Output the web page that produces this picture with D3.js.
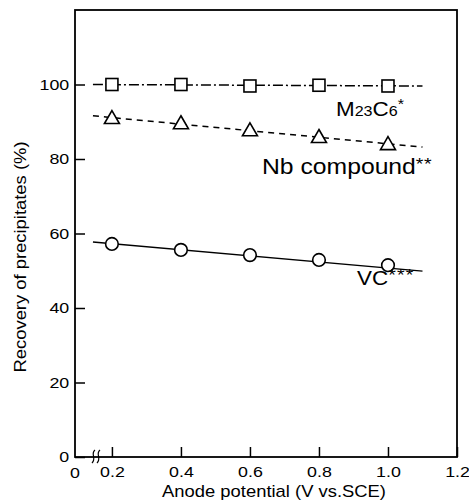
<!doctype html>
<html>
<head>
<meta charset="utf-8">
<script src="https://cdnjs.cloudflare.com/ajax/libs/d3/7.8.5/d3.min.js"></script>
<style>
  body { margin: 0; background: #fff; }
  svg { display: block; }
  text { font-family: "Liberation Sans", Arial, Helvetica, sans-serif; fill: #000; }
</style>
</head>
<body>
<svg id="chart" width="469" height="501"></svg>
<script>
  /* data */
  var potential = [0.2, 0.4, 0.6, 0.8, 1.0];
  var m23c6 = [100, 100, 99.6, 99.8, 99.6];
  var nbCompound = [91.0, 89.6, 87.7, 85.9, 84.0];
  var vc = [57.2, 55.6, 54.2, 52.9, 51.5];

  // fitted lines, [start, end] pairs
  var lineX = [0.145, 1.1];
  var m23c6Line = [100, 99.6];
  var nbLine = [91.6, 83.2];
  var vcLine = [57.7, 49.9];

  var xTicks = [0.2, 0.4, 0.6, 0.8, 1.0, 1.2];
  var yTicks = [0, 20, 40, 60, 80, 100];

  var svg = d3.select("#chart");
  var pL = 75, pR = 457, pT = 10, pB = 457;
  var sx = 1.15; // the scan's lettering is wider than Arial

  var x = d3.scaleLinear().domain([0.093, 1.2]).range([pL, pR]);
  var y = d3.scaleLinear().domain([0, 120]).range([pB, pT]);

  // frame
  svg.append("rect")
    .attr("x", pL).attr("y", pT)
    .attr("width", pR - pL).attr("height", pB - pT)
    .attr("fill", "none").attr("stroke", "#000").attr("stroke-width", 1.8);

  var yAxis = d3.axisLeft(y).tickValues(yTicks).tickSize(-10).tickPadding(5);
  svg.append("g")
    .attr("transform", "translate(" + pL + ",0)")
    .call(yAxis)
    .call(g => g.select(".domain").remove())
    .call(g => g.selectAll("line").attr("stroke-width", 1.5))
    .call(g => g.selectAll("text").attr("font-size", 15.5).attr("transform", "scale(" + sx + ",1)"));

  var xAxis = d3.axisBottom(x).tickValues(xTicks).tickSize(-10).tickPadding(9)
    .tickFormat(d => d.toFixed(1));
  svg.append("g")
    .attr("transform", "translate(0," + pB + ")")
    .call(xAxis)
    .call(g => g.select(".domain").remove())
    .call(g => g.selectAll("line").attr("stroke-width", 1.5))
    .call(g => g.selectAll("text").attr("font-size", 15.5).attr("transform", "scale(" + sx + ",1)"));

  // "0" at the broken origin
  svg.append("text")
    .attr("transform", "translate(" + x(0.093) + "," + (pB + 21) + ") scale(" + sx + ",1)")
    .attr("text-anchor", "middle").attr("font-size", 15.5).text("0");

  // axis break marks
  [0, 5].forEach(function(dx) {
    var bx = 93 + dx;
    svg.append("path")
      .attr("d", "M" + (bx + 2) + "," + (pB - 7) + " C" + (bx - 3) + "," + (pB - 3) + " " + (bx + 4) + "," + (pB + 1) + " " + (bx - 1) + "," + (pB + 6))
      .attr("fill", "none").attr("stroke", "#000").attr("stroke-width", 1.2);
  });

  // axis titles
  svg.append("text")
    .attr("transform", "translate(274,497) scale(" + sx + ",1)")
    .attr("text-anchor", "middle").attr("font-size", 16)
    .text("Anode potential (V vs.SCE)");

  svg.append("text")
    .attr("transform", "translate(26,257) rotate(-90) scale(" + sx + ",1)")
    .attr("text-anchor", "middle").attr("font-size", 16)
    .text("Recovery of precipitates (%)");

  // fitted lines
  var line = d3.line().x(d => x(d[0])).y(d => y(d[1]));
  function fit(vals, dash) {
    svg.append("path")
      .datum(lineX.map((v, i) => [v, vals[i]]))
      .attr("d", line)
      .attr("fill", "none").attr("stroke", "#000").attr("stroke-width", 1.5)
      .attr("stroke-dasharray", dash);
  }
  fit(m23c6Line, "10,3,2,3");
  fit(nbLine, "6,5");
  fit(vcLine, null);

  // markers
  svg.selectAll(".sq").data(potential).enter().append("rect")
    .attr("class", "sq")
    .attr("x", (d) => x(d) - 6).attr("y", (d, i) => y(m23c6[i]) - 6)
    .attr("width", 12).attr("height", 12)
    .attr("fill", "#fff").attr("stroke", "#000").attr("stroke-width", 1.6);

  svg.selectAll(".tri").data(potential).enter().append("path")
    .attr("class", "tri")
    .attr("transform", (d, i) => "translate(" + x(d) + "," + y(nbCompound[i]) + ")")
    .attr("d", "M0,-7.5 L7.5,5.5 L-7.5,5.5 Z")
    .attr("fill", "#fff").attr("stroke", "#000").attr("stroke-width", 1.6);

  svg.selectAll(".ci").data(potential).enter().append("circle")
    .attr("class", "ci")
    .attr("cx", d => x(d)).attr("cy", (d, i) => y(vc[i]))
    .attr("r", 6.3)
    .attr("fill", "#fff").attr("stroke", "#000").attr("stroke-width", 1.6);

  // series labels
  var t1 = svg.append("text")
    .attr("transform", "translate(336,116) scale(" + sx + ",1)")
    .attr("font-size", 19.5);
  t1.append("tspan").text("M");
  t1.append("tspan").attr("font-size", 14).text("23");
  t1.append("tspan").text("C");
  t1.append("tspan").attr("font-size", 14).text("6");
  t1.append("tspan").attr("font-size", 14).attr("dy", -7).text("*");

  var t2 = svg.append("text")
    .attr("transform", "translate(262,173.5) scale(" + sx + ",1)")
    .attr("font-size", 21.5);
  t2.append("tspan").text("Nb compound");
  t2.append("tspan").attr("font-size", 17).attr("dy", -4).attr("letter-spacing", 0.5).text("**");

  var t3 = svg.append("text")
    .attr("transform", "translate(357,285) scale(" + sx + ",1)")
    .attr("font-size", 19.5);
  t3.append("tspan").text("VC");
  t3.append("tspan").attr("font-size", 17).attr("dy", -4).attr("letter-spacing", 1).text("***");
</script>
</body>
</html>
